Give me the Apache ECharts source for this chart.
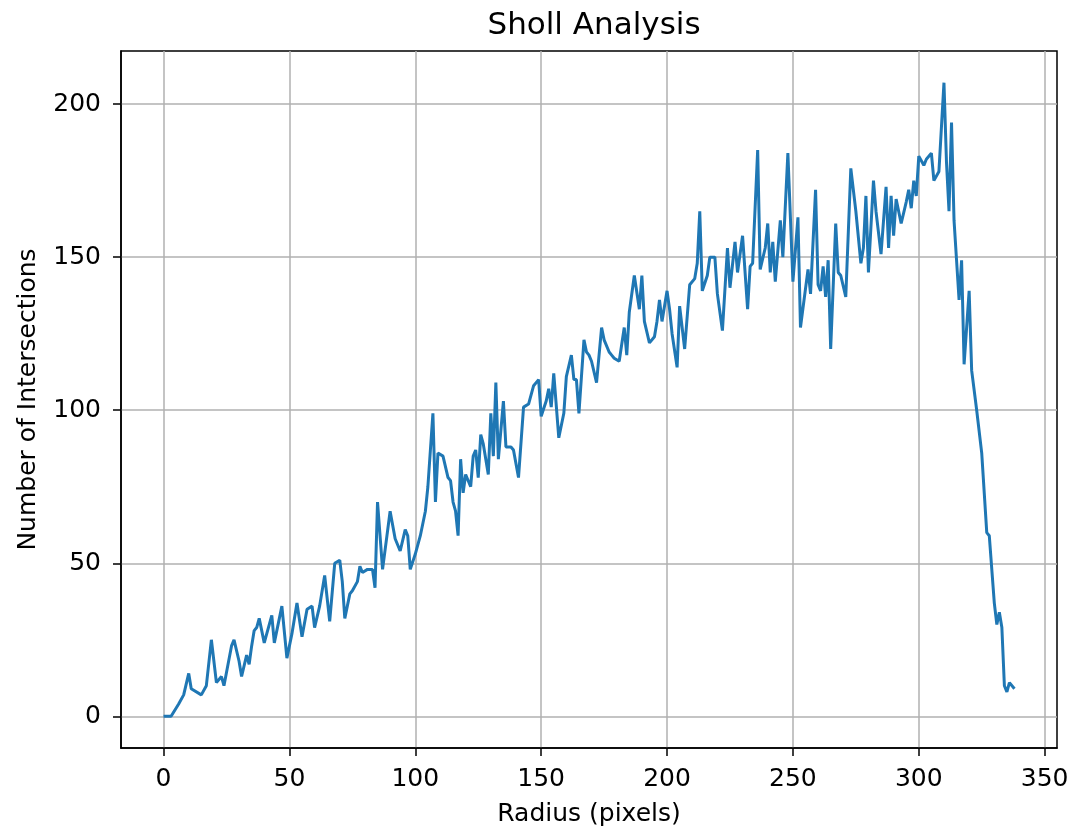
<!DOCTYPE html>
<html>
<head>
<meta charset="utf-8">
<script src="https://cdn.jsdelivr.net/npm/echarts@6/dist/echarts.min.js"></script>
<style>
  html, body { margin: 0; padding: 0; background: #fff; }
  #chart { width: 1067px; height: 828px; }
</style>
</head>
<body>
<div id="chart"></div>
<script>
// radius (pixels) and number of intersections
var radius = [
  0, 3, 6, 8, 10, 11, 15, 17, 19, 21, 23, 24, 27, 28, 30, 31, 33, 34, 35, 36, 37, 38,
  40, 43, 44, 47, 49, 51, 53, 55, 57, 59, 60, 62, 64, 66, 68, 70, 71, 72, 74, 75, 77, 78, 79,
  81, 83, 84, 85, 87, 90, 92, 94, 96, 97, 98, 100, 102, 104, 105, 107, 108, 109, 111, 113,
  114, 115, 116, 117, 118, 119, 120, 122, 123, 124, 125, 126, 127, 129, 130, 131, 132, 133,
  135, 136, 138, 139, 141, 143, 145, 147, 149, 150, 152, 153, 154, 155, 157, 159, 160, 162,
  163, 164, 165, 167, 168, 169, 170, 172, 174, 175, 177, 178, 179, 181, 183, 184, 185, 187,
  189, 190, 191, 193, 195, 196, 197, 198, 200, 201, 202, 204, 205, 207, 209, 211, 212, 213,
  214, 216, 217, 219, 220, 222, 224, 225, 227, 228, 230, 232, 233, 234, 236, 237, 239, 240,
  241, 242, 243, 245, 246, 248, 250, 252, 253, 256, 257, 259, 260, 261, 262, 263, 264, 265,
  267, 268, 269, 271, 273, 275, 277, 278, 279, 280, 282, 283, 285, 287, 288, 289, 290, 291,
  293, 295, 296, 297, 298, 299, 300, 302, 303, 305, 306, 308, 310, 311, 312, 313, 314, 315,
  316, 317, 318, 320, 321, 323, 325, 327, 328, 330, 331, 332, 333, 334, 335, 336, 338
];
var intersections = [
  0, 0, 4, 7, 14, 9, 7, 10, 25, 11, 13, 10, 23, 25, 18, 13, 20, 17, 23, 28, 29, 32,
  24, 33, 24, 36, 19, 27, 37, 26, 35, 36, 29, 36, 46, 31, 50, 51, 44, 32, 40, 41, 44, 49, 47,
  48, 48, 42, 70, 48, 67, 58, 54, 61, 59, 48, 53, 59, 67, 75, 99, 70, 86, 85, 78,
  77, 70, 67, 59, 84, 73, 79, 75, 85, 87, 78, 92, 89, 79, 99, 85, 109, 84,
  103, 88, 88, 87, 78, 101, 102, 108, 110, 98, 103, 107, 101, 112, 91, 99, 111, 118,
  110, 110, 99, 123, 119, 118, 116, 109, 127, 123, 119, 118, 117, 116, 127, 118, 132, 144,
  133, 144, 129, 122, 124, 129, 136, 129, 139, 133, 125, 114, 134, 120, 141, 143, 148, 165,
  139, 144, 150, 150, 138, 126, 153, 140, 155, 145, 157, 133, 147, 148, 185, 146, 153, 161,
  145, 155, 142, 162, 150, 184, 142, 163, 127, 146, 138, 172, 141, 139, 147, 137, 149, 120,
  161, 145, 144, 137, 179, 165, 148, 153, 170, 145, 175, 165, 151, 173, 153, 170, 157, 169,
  161, 168, 172, 166, 175, 170, 183, 180, 182, 184, 175, 178, 207, 181, 165, 194, 162, 149,
  136, 149, 115, 139, 113, 100, 86, 60, 59, 37, 30, 34, 29, 10, 8, 11, 9
];
var xTicks = [0, 50, 100, 150, 200, 250, 300, 350];
var yTicks = [0, 50, 100, 150, 200];

var points = radius.map(function(r, i) {
  return [r, intersections[i]];
});

var font = 'DejaVu Sans';

echarts.init(document.getElementById('chart')).setOption({
  backgroundColor: '#ffffff',
  animation: false,
  title: {
    text: 'Sholl Analysis',
    left: 589,
    top: 5,
    textAlign: 'center',
    textStyle: { fontFamily: font, fontSize: 31, fontWeight: 'normal', color: '#000' }
  },
  grid: {
    left: 121,
    right: 10,
    top: 51,
    bottom: 80,
    outerBoundsMode: 'none',
    containLabel: false,
    show: true,
    borderColor: '#000',
    borderWidth: 1.5,
    backgroundColor: 'transparent'
  },
  xAxis: {
    type: 'value',
    min: -16.9,
    max: 354.9,
    name: 'Radius (pixels)',
    nameLocation: 'middle',
    nameGap: 54,
    nameTextStyle: { fontFamily: font, fontSize: 25, color: '#000' },
    axisLine: { show: true, onZero: false, lineStyle: { color: '#000', width: 1.5 } },
    axisTick: { show: true, inside: false, length: 8, customValues: xTicks, lineStyle: { color: '#000', width: 1.5 } },
    axisLabel: { customValues: xTicks, margin: 19, fontFamily: font, fontSize: 25, color: '#000' },
    splitLine: { show: true, lineStyle: { color: '#b0b0b0', width: 1.5 } }
  },
  yAxis: {
    type: 'value',
    min: -10.35,
    max: 217.35,
    name: 'Number of Intersections',
    nameLocation: 'middle',
    nameGap: 80,
    nameTextStyle: { fontFamily: font, fontSize: 25, color: '#000' },
    axisLine: { show: true, onZero: false, lineStyle: { color: '#000', width: 1.5 } },
    axisTick: { show: true, inside: false, length: 8, customValues: yTicks, lineStyle: { color: '#000', width: 1.5 } },
    axisLabel: { customValues: yTicks, margin: 20, fontFamily: font, fontSize: 25, color: '#000' },
    splitLine: { show: true, lineStyle: { color: '#b0b0b0', width: 1.5 } }
  },
  series: [{
    type: 'line',
    data: points,
    symbol: 'none',
    smooth: false,
    lineStyle: { color: '#1f77b4', width: 3 },
    z: 3
  }]
});
</script>
</body>
</html>
